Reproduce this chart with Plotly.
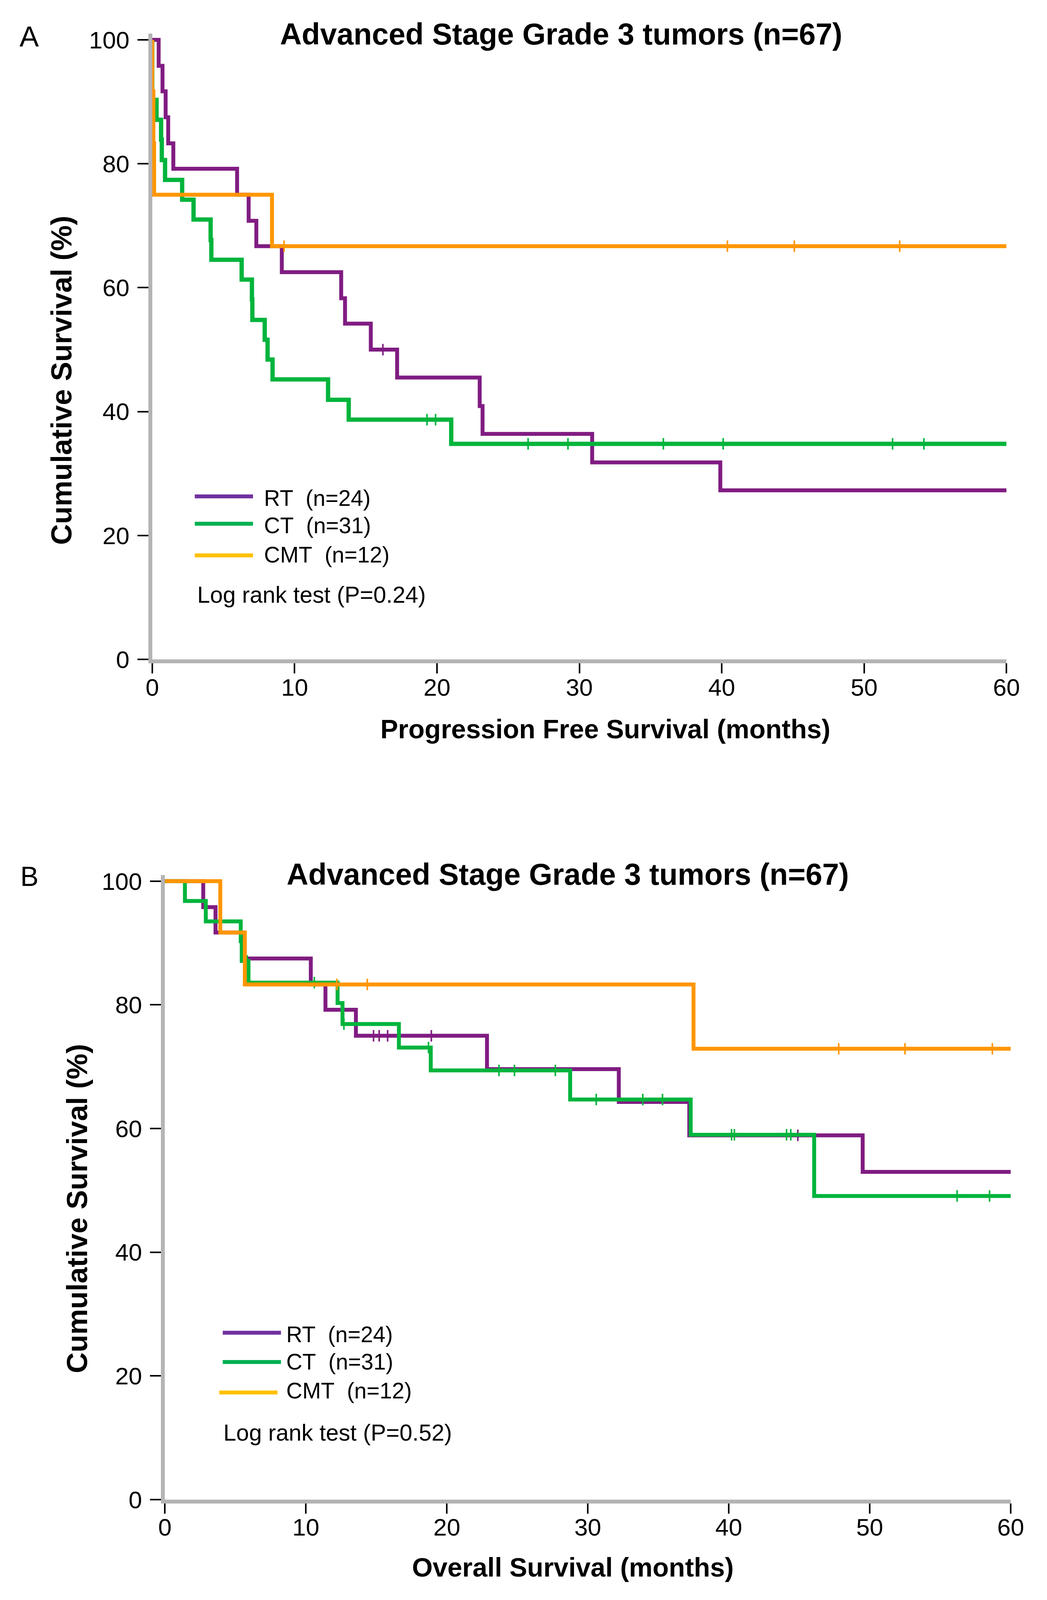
import plotly.graph_objects as go

W, H = 2681, 4117
OFF = 8                      # default page margin of the HTML body
FW, FH = W - 2 * OFF, H - 2 * OFF
FONT = "Liberation Sans, Arial, sans-serif"

# ---------------- Data ----------------
# Panel A: Progression free survival (months, cumulative survival %)
pfs_rt_times = [0.45, 0.72, 0.94, 1.12, 1.48, 5.96, 6.77, 7.31, 9.1, 13.27, 13.54, 15.35,
                17.2, 23.0, 23.2, 30.9, 39.9]
pfs_rt_surv = [95.8, 91.7, 87.5, 83.3, 79.2, 75.0, 70.8, 66.7, 62.5, 58.3, 54.2, 50.0,
               45.5, 40.9, 36.4, 31.8, 27.3]
pfs_rt_censor = [16.2]

pfs_ct_times = [0.0, 0.3, 0.62, 0.67, 0.9, 2.1, 2.9, 4.1, 4.15, 6.28, 7.0, 7.03, 7.9, 8.1,
                8.45, 12.35, 13.8, 21.0]
pfs_ct_surv = [90.3, 87.1, 83.9, 80.6, 77.4, 74.2, 71.0, 67.7, 64.5, 61.3, 58.1, 54.8, 51.6,
               48.4, 45.2, 41.9, 38.7, 34.8]
pfs_ct_censor = [19.3, 19.9, 26.4, 29.2, 35.9, 40.1, 52.0, 54.2]

pfs_cmt_times = [0.0, 0.08, 0.13, 8.41]
pfs_cmt_surv = [91.7, 83.3, 75.0, 66.7]
pfs_cmt_censor = [9.26, 40.4, 45.1, 52.5]

# Panel B: Overall survival
os_rt_times = [2.72, 3.59, 5.58, 10.35, 11.39, 13.55, 22.85, 32.2, 37.2, 49.5]
os_rt_surv = [95.8, 91.7, 87.5, 83.3, 79.2, 75.0, 69.6, 64.3, 58.9, 53.0]
os_rt_censor = [14.8, 15.2, 15.8, 18.9, 44.9]

os_ct_times = [1.42, 2.9, 5.38, 5.45, 5.93, 12.25, 12.6, 16.6, 18.86, 28.75, 37.3, 46.06]
os_ct_surv = [96.8, 93.5, 90.3, 87.1, 83.6, 80.3, 76.9, 73.1, 69.4, 64.7, 59.0, 49.1]
os_ct_censor = [5.84, 10.6, 12.7, 18.7, 23.7, 24.8, 27.7, 30.6, 33.9, 35.3, 40.2, 40.4,
                44.1, 44.4, 56.2, 58.5]

os_cmt_times = [3.93, 5.67, 37.5]
os_cmt_surv = [91.7, 83.3, 72.9]
os_cmt_censor = [12.2, 14.36, 47.8, 52.5, 58.7]

x_ticks = [0, 10, 20, 30, 40, 50, 60]
y_ticks = [0, 20, 40, 60, 80, 100]
group_labels = ["RT\u00a0\u00a0(n=24)", "CT\u00a0\u00a0(n=31)", "CMT\u00a0\u00a0(n=12)"]
panel_titles = ["Advanced Stage Grade 3 tumors (n=67)", "Advanced Stage Grade 3 tumors (n=67)"]
x_titles = ["Progression Free Survival (months)", "Overall Survival (months)"]
y_title = "Cumulative Survival (%)"
logrank = ["Log rank test (P=0.24)", "Log rank test (P=0.52)"]

# ---------------- Styling ----------------
C_RT, C_CT, C_CMT = "#801C82", "#00B43C", "#FF9600"
L_RT, L_CT, L_CMT = "#7030A0", "#00B050", "#FFC000"
AXIS_GRAY = "#B4B4B4"


def px(xp):
    return (xp - OFF) / FW


def py(yp):
    return 1 - (yp - OFF) / FH


def step_at(times, surv, t):
    s = 100.0
    for ti, si in zip(times, surv):
        if ti <= t:
            s = si
        else:
            break
    return s


fig = go.Figure()


def add_km(times, surv, censor, color, width, xa, ya):
    xs = [0] + list(times) + [60]
    ys = [100] + list(surv) + [surv[-1]]
    fig.add_trace(go.Scatter(x=xs, y=ys, mode="lines",
                             line=dict(color=color, width=width, shape="hv"),
                             xaxis=xa, yaxis=ya, showlegend=False, hoverinfo="skip"))
    cy = [step_at(times, surv, c) for c in censor]
    fig.add_trace(go.Scatter(x=censor, y=cy, mode="markers",
                             marker=dict(symbol="line-ns", size=21, color=color,
                                         line=dict(color=color, width=4)),
                             xaxis=xa, yaxis=ya, showlegend=False, hoverinfo="skip"))


# Panel A (bottom -> top: RT, CT, CMT)
add_km(pfs_rt_times, pfs_rt_surv, pfs_rt_censor, C_RT, 10, "x", "y")
add_km(pfs_ct_times, pfs_ct_surv, pfs_ct_censor, C_CT, 11, "x", "y")
add_km(pfs_cmt_times, pfs_cmt_surv, pfs_cmt_censor, C_CMT, 10, "x", "y")
# Panel B
add_km(os_rt_times, os_rt_surv, os_rt_censor, C_RT, 10, "x2", "y2")
add_km(os_ct_times, os_ct_surv, os_ct_censor, C_CT, 10, "x2", "y2")
add_km(os_cmt_times, os_cmt_surv, os_cmt_censor, C_CMT, 10, "x2", "y2")

# Panel geometry in page pixels
A = dict(x0=380, x60=2610, y100=85, y0=1692)
B = dict(x0=413, x60=2621, y100=2267, y0=3871)


def ydomain(P):
    unit = (P["y0"] - P["y100"]) / 100.0
    top = P["y100"] - unit * 1.0
    return [py(P["y0"]), py(top)]


def xaxis_cfg(P, anchor):
    return dict(domain=[px(P["x0"]), px(P["x60"])], range=[0, 60], anchor=anchor,
                tickmode="array", tickvals=x_ticks, ticktext=[str(v) for v in x_ticks],
                ticks="outside", ticklen=26, tickwidth=4, tickcolor="black",
                showline=True, linecolor=AXIS_GRAY, linewidth=10,
                showgrid=False, zeroline=False, ticklabelstandoff=-18,
                tickfont=dict(family=FONT, size=62, color="black"), fixedrange=True)


def yaxis_cfg(P, anchor):
    return dict(domain=ydomain(P), range=[0, 101], anchor=anchor,
                tickmode="array", tickvals=y_ticks, ticktext=[str(v) for v in y_ticks],
                ticks="outside", ticklen=28, tickwidth=4, tickcolor="black",
                showline=True, linecolor=AXIS_GRAY, linewidth=10,
                showgrid=False, zeroline=False, ticklabelstandoff=8,
                tickfont=dict(family=FONT, size=62, color="black"), fixedrange=True)


fig.update_layout(
    width=FW, height=FH,
    margin=dict(l=0, r=0, t=0, b=0),
    paper_bgcolor="white", plot_bgcolor="white",
    showlegend=False,
    xaxis=xaxis_cfg(A, "y"), yaxis=yaxis_cfg(A, "x"),
    xaxis2=xaxis_cfg(B, "y2"), yaxis2=yaxis_cfg(B, "x2"),
)

ann = []
shapes = []


def text(x, y, s, size, bold=False, xanchor="center", angle=0):
    ann.append(dict(x=px(x), y=py(y), xref="paper", yref="paper", showarrow=False,
                    text=("<b>%s</b>" % s) if bold else s, xanchor=xanchor, yanchor="middle",
                    textangle=angle, font=dict(family=FONT, size=size, color="black")))


# Panel letters
text(59, 76, "A", 74)
text(59, 2255, "B", 70)
# Titles
text(1448, 70, panel_titles[0], 77, bold=True)
text(1465, 2249, panel_titles[1], 77, bold=True)
# Axis titles
text(1563, 1872, x_titles[0], 68, bold=True)
text(1478, 4046, x_titles[1], 68, bold=True)
text(143, 968, y_title, 74, bold=True, angle=-90)
text(184, 3116, y_title, 74, bold=True, angle=-90)

# Legends (decorative sample lines + labels)
legend_cols = [L_RT, L_CT, L_CMT]
legA = [(491, 643, 1269, 1273), (491, 643, 1340, 1344), (491, 643, 1422, 1420)]
legB = [(564, 716, 3438, 3442), (564, 716, 3514, 3513), (555, 707, 3593, 3588)]
for (xa, xb, yl, yt), col, lab in zip(legA, legend_cols, group_labels):
    shapes.append(dict(type="line", xref="paper", yref="paper", x0=px(xa), x1=px(xb),
                       y0=py(yl), y1=py(yl), line=dict(color=col, width=10)))
    text(670, yt, lab, 57, xanchor="left")
for (xa, xb, yl, yt), col, lab in zip(legB, legend_cols, group_labels):
    shapes.append(dict(type="line", xref="paper", yref="paper", x0=px(xa), x1=px(xb),
                       y0=py(yl), y1=py(yl), line=dict(color=col, width=10)))
    text(728, yt, lab, 57, xanchor="left")
text(495, 1525, logrank[0], 59, xanchor="left")
text(564, 3698, logrank[1], 59, xanchor="left")

fig.update_layout(annotations=ann, shapes=shapes)
fig.write_html("out.html")
